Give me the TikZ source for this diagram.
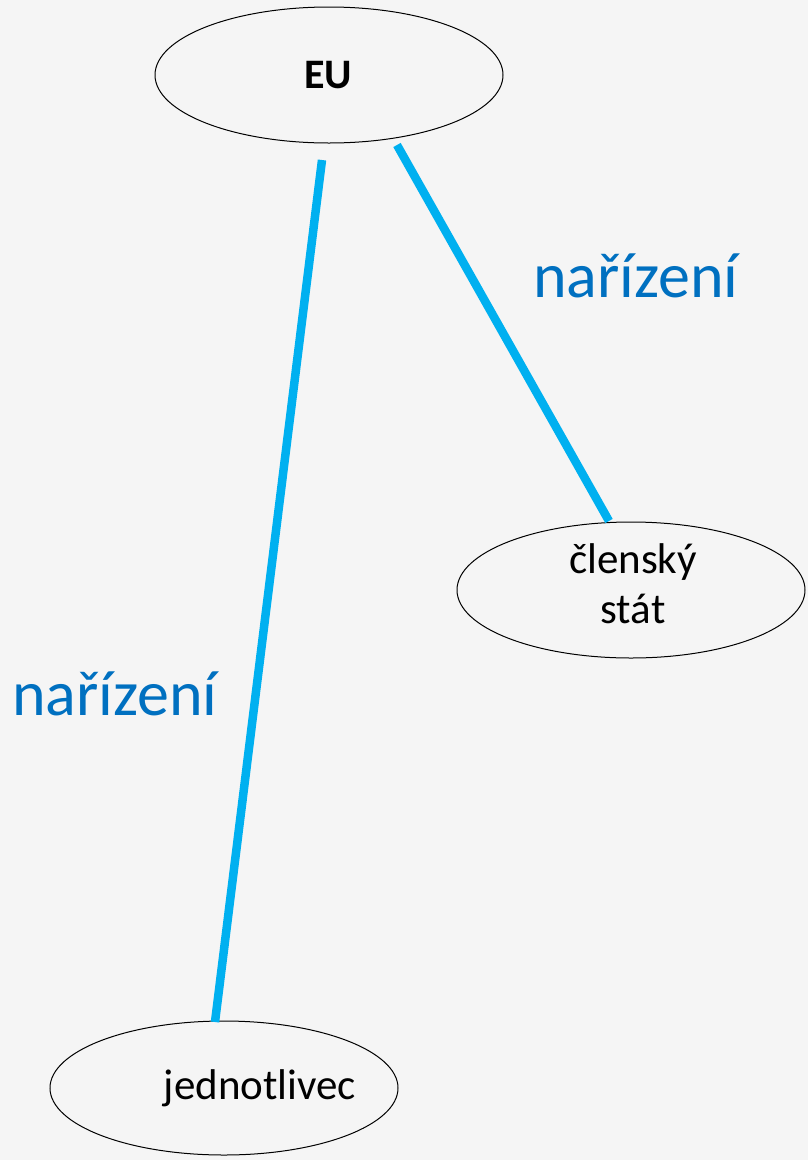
\documentclass[tikz,border=0pt]{standalone}
\usepackage{fontspec}
\setmainfont{Carlito}
\definecolor{bg}{HTML}{F5F5F5}
\definecolor{linec}{HTML}{00B0F0}
\definecolor{labc}{HTML}{0070C0}
\begin{document}
\begin{tikzpicture}[x=1pt,y=-1pt,
  conn/.style={draw=linec,line width=8.5pt},
  lab/.style={text=labc,font=\fontsize{64}{70}\selectfont,inner sep=0pt},
  ntext/.style={font=\fontsize{43}{50}\selectfont,inner sep=0pt,align=center}]
\fill[bg] (0,0) rectangle (808,1160);
\useasboundingbox (0,0) rectangle (808,1160);
\draw[line width=1pt] (329,75) ellipse [x radius=174, y radius=68];
\draw[line width=1pt] (631,590) ellipse [x radius=174, y radius=68];
\draw[line width=1pt] (224,1088) ellipse [x radius=174, y radius=67];
\node[ntext,font=\bfseries\fontsize{42}{50}\selectfont] (eu) at (328,75) {EU};
\node[ntext] (cs) at (633,584) {členský\\stát};
\node[ntext] (jd) at (260,1088) {jednotlivec};
\coordinate (a1) at (322,160);
\coordinate (a2) at (215,1022);
\coordinate (b1) at (397,145);
\coordinate (b2) at (609,521);
\draw[conn] (a1) -- (a2);
\draw[conn] (b1) -- (b2);
\node[lab] (l1) at (636,276) {nařízení};
\node[lab] (l2) at (115,694) {nařízení};
\end{tikzpicture}
\end{document}
